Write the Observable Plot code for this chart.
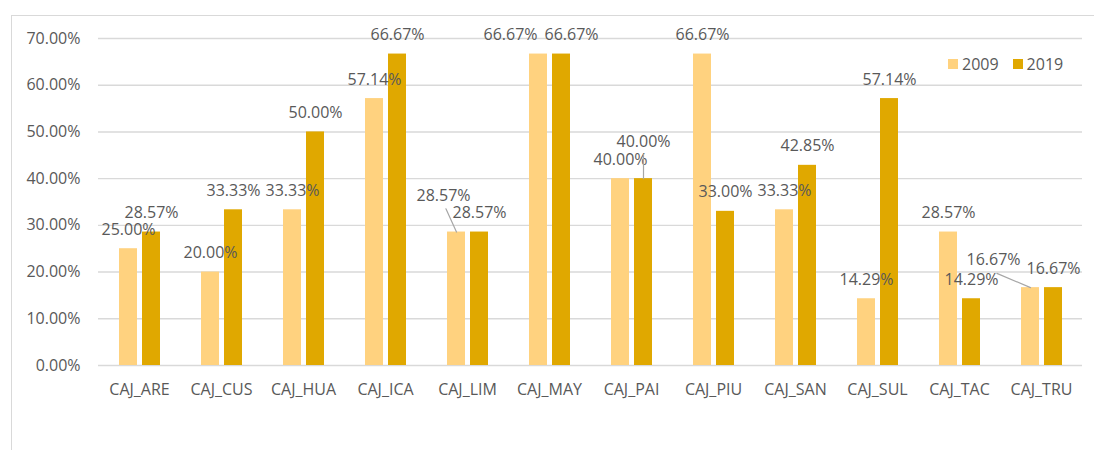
<!DOCTYPE html>
<html>
<head>
<meta charset="utf-8">
<script src="https://cdn.jsdelivr.net/npm/d3@7"></script>
<script src="https://cdn.jsdelivr.net/npm/@observablehq/plot@0.6"></script>
<style>
  html, body { margin: 0; padding: 0; background: #fff; overflow: hidden; }
  #wrap { position: relative; width: 1094px; height: 450px; font-family: "Open Sans", sans-serif; }
  #frame { position: absolute; left: 11px; top: 15px; width: 1200px; height: 600px; border: 1px solid #d9d9d9; box-sizing: border-box; pointer-events: none; }
  #chart { position: absolute; left: 0; top: 0; }
  #legend { position: absolute; left: 948px; top: 53px; display: flex; align-items: center; font-size: 16px; color: #595959; line-height: 22px; }
  #legend .sw { width: 10px; height: 10px; margin-right: 4px; }
  #legend .item { display: flex; align-items: center; margin-right: 14px; }
</style>
</head>
<body>
<div id="wrap">
  <div id="frame"></div>
  <div id="chart"></div>
  <div id="legend"></div>
</div>
<script>
// Share per branch, in percent
const categories = ["CAJ_ARE", "CAJ_CUS", "CAJ_HUA", "CAJ_ICA", "CAJ_LIM", "CAJ_MAY",
                    "CAJ_PAI", "CAJ_PIU", "CAJ_SAN", "CAJ_SUL", "CAJ_TAC", "CAJ_TRU"];
const years = ["2009", "2019"];
const v2009 = [25.00, 20.00, 33.33, 57.14, 28.57, 66.67, 40.00, 66.67, 33.33, 14.29, 28.57, 16.67];
const v2019 = [28.57, 33.33, 50.00, 66.67, 28.57, 66.67, 40.00, 33.00, 42.85, 57.14, 14.29, 16.67];
const yTicks = [0, 10, 20, 30, 40, 50, 60, 70];
const colors = ["#FFD27F", "#E0A800"];

// Labels moved away from their default spot (pixel offsets from the bar top)
const labelNudges = [
  {cat: "CAJ_LIM", year: "2009", dx: -13, dy: -36},
  {cat: "CAJ_MAY", year: "2009", dx: -28, dy: -19},
  {cat: "CAJ_MAY", year: "2019", dx: 10, dy: -19},
  {cat: "CAJ_PAI", year: "2019", dx: 0, dy: -37},
  {cat: "CAJ_TRU", year: "2009", dx: -37, dy: -28}
];
// Leader lines from bar top to a moved label (length in px, rotation in degrees)
const leaders = [
  {cat: "CAJ_LIM", year: "2009", length: 25.5, rotate: -24.5},
  {cat: "CAJ_PAI", year: "2019", length: 24, rotate: 0},
  {cat: "CAJ_TRU", year: "2009", length: 36.5, rotate: -67}
];

const rows = categories.flatMap((cat, i) => [
  {cat, year: years[0], value: v2009[i]},
  {cat, year: years[1], value: v2019[i]}
]);
const find = (c, y) => rows.find(r => r.cat === c && r.year === y);
const isNudged = r => labelNudges.some(n => n.cat === r.cat && n.year === r.year);
const fmt = v => v.toFixed(2) + "%";
const labelColor = "#595959";

const marks = [
  Plot.ruleY(yTicks, {stroke: "#d9d9d9", strokeWidth: 1.4}),
  Plot.barY(rows, {fx: "cat", x: "year", y: "value", fill: "year"}),
  Plot.text(rows.filter(r => !isNudged(r)), {
    fx: "cat", x: "year", y: "value", text: d => fmt(d.value), dy: -19, fill: labelColor
  })
];
for (const n of labelNudges) {
  marks.push(Plot.text([find(n.cat, n.year)], {
    fx: "cat", x: "year", y: "value", text: d => fmt(d.value), dx: n.dx, dy: n.dy, fill: labelColor
  }));
}
for (const l of leaders) {
  marks.push(Plot.vector([find(l.cat, l.year)], {
    fx: "cat", x: "year", y: "value", length: l.length, rotate: l.rotate,
    anchor: "start", r: 0, stroke: "#a6a6a6", strokeWidth: 1.2
  }));
}

const chart = Plot.plot({
  width: 1094,
  height: 450,
  marginTop: 38,
  marginBottom: 85,
  marginLeft: 95,
  marginRight: 10,
  style: {fontFamily: "'Open Sans', sans-serif", fontSize: "16px", color: labelColor, background: "transparent"},
  fx: {domain: categories, padding: 0, axis: "bottom", tickSize: 0, tickPadding: 18, label: null},
  x: {domain: years, paddingInner: 0.227, paddingOuter: 0.884, axis: null},
  y: {domain: [0, 70], ticks: yTicks, tickFormat: fmt, tickSize: 0, tickPadding: 18, label: null},
  color: {domain: years, range: colors},
  marks
});
document.getElementById("chart").append(chart);

// Legend
const legend = document.getElementById("legend");
years.forEach((y, i) => {
  const item = document.createElement("div");
  item.className = "item";
  const sw = document.createElement("div");
  sw.className = "sw";
  sw.style.background = colors[i];
  const t = document.createElement("span");
  t.textContent = y;
  item.append(sw, t);
  legend.append(item);
});
</script>
</body>
</html>
